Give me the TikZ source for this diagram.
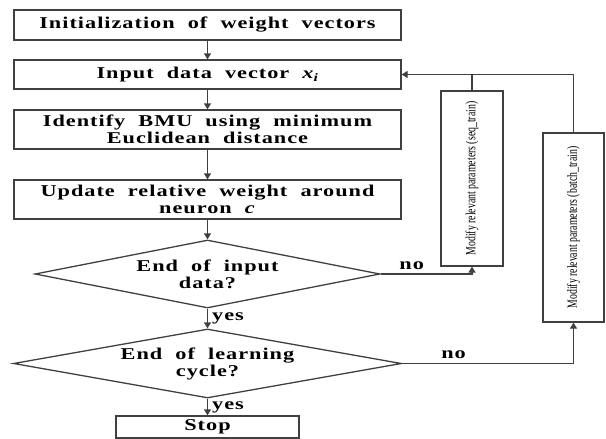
\documentclass[tikz,border=0pt]{standalone}
\usepackage{graphicx}
\usepackage{fontspec}
\setmainfont{Liberation Serif}
\newfontfamily\flowfont[FakeStretch=1.35,LetterSpace=6,WordSpace=2]{Liberation Serif}
\newfontfamily\sidefont{Liberation Serif}
\usetikzlibrary{shapes.geometric,arrows.meta}

\begin{document}
\begin{tikzpicture}[x=1pt,y=-1pt,
    line width=1.3pt, draw=black!75,
    every node/.style={font=\flowfont\bfseries\fontsize{16.5}{17}\selectfont},
    stepbox/.style={draw, rectangle, minimum width=387pt, inner sep=0pt, align=center},
    decision/.style={draw, diamond, aspect=5, inner sep=0pt, align=center},
    sidebox/.style={draw, rectangle, inner sep=0pt, font=\sidefont\fontsize{14}{14}\selectfont},
    arr/.style={-{Triangle[length=6pt,width=7pt]}},
    lbl/.style={inner sep=4pt}]
    \useasboundingbox (0,0) rectangle (606,439);
    % main column
    \node[stepbox, minimum height=30pt] (init) at (207.5,25) {Initialization of weight vectors};
    \node[stepbox, minimum height=29pt] (input) at (207.5,74.5) {Input data vector \textit{x\textsubscript{i}}};
    \node[stepbox, minimum height=39pt] (bmu) at (207.5,129.5) {Identify BMU using minimum\\Euclidean distance};
    \node[stepbox, minimum height=39pt] (update) at (207.5,199.5) {Update relative weight around\\neuron \textit{c}};
    \node[decision, minimum width=345pt, minimum height=68pt] (endin) at (207.5,274) {End of input\\data?};
    \node[decision, minimum width=388pt, minimum height=69pt] (endcyc) at (207.5,363.5) {End of learning\\cycle?};
    \node[stepbox, minimum width=183pt, minimum height=22pt] (stop) at (207.5,427) {Stop};
    % feedback boxes
    \node[sidebox, minimum width=62pt, minimum height=175pt] (seq) at (472,178.5)
        {\rotatebox{90}{\scalebox{0.7}[1]{Modify relevant parameters (seq\_train)}}};
    \node[sidebox, minimum width=61pt, minimum height=189pt] (batch) at (573.5,227.5)
        {\rotatebox{90}{\scalebox{0.7}[1]{Modify relevant parameters (batch\_train)}}};
    % connectors
    \draw[arr] (init) -- (input);
    \draw[arr] (input) -- (bmu);
    \draw[arr] (bmu) -- (update);
    \draw[arr] (update) -- (endin);
    \draw[arr] (endin) -- node[right,lbl]{yes} (endcyc);
    \draw[arr] (endcyc) -- node[right,lbl]{yes} (stop);
    \draw[arr] (endin.east) -| node[above,pos=0.17,lbl]{no} (seq.south);
    \draw[arr] (endcyc.east) -| node[above,pos=0.15,lbl]{no} (batch.south);
    \draw[arr] (batch.north) |- (input.east);
    \draw (seq.north) -- (seq.north |- input.east);
\end{tikzpicture}
\end{document}
